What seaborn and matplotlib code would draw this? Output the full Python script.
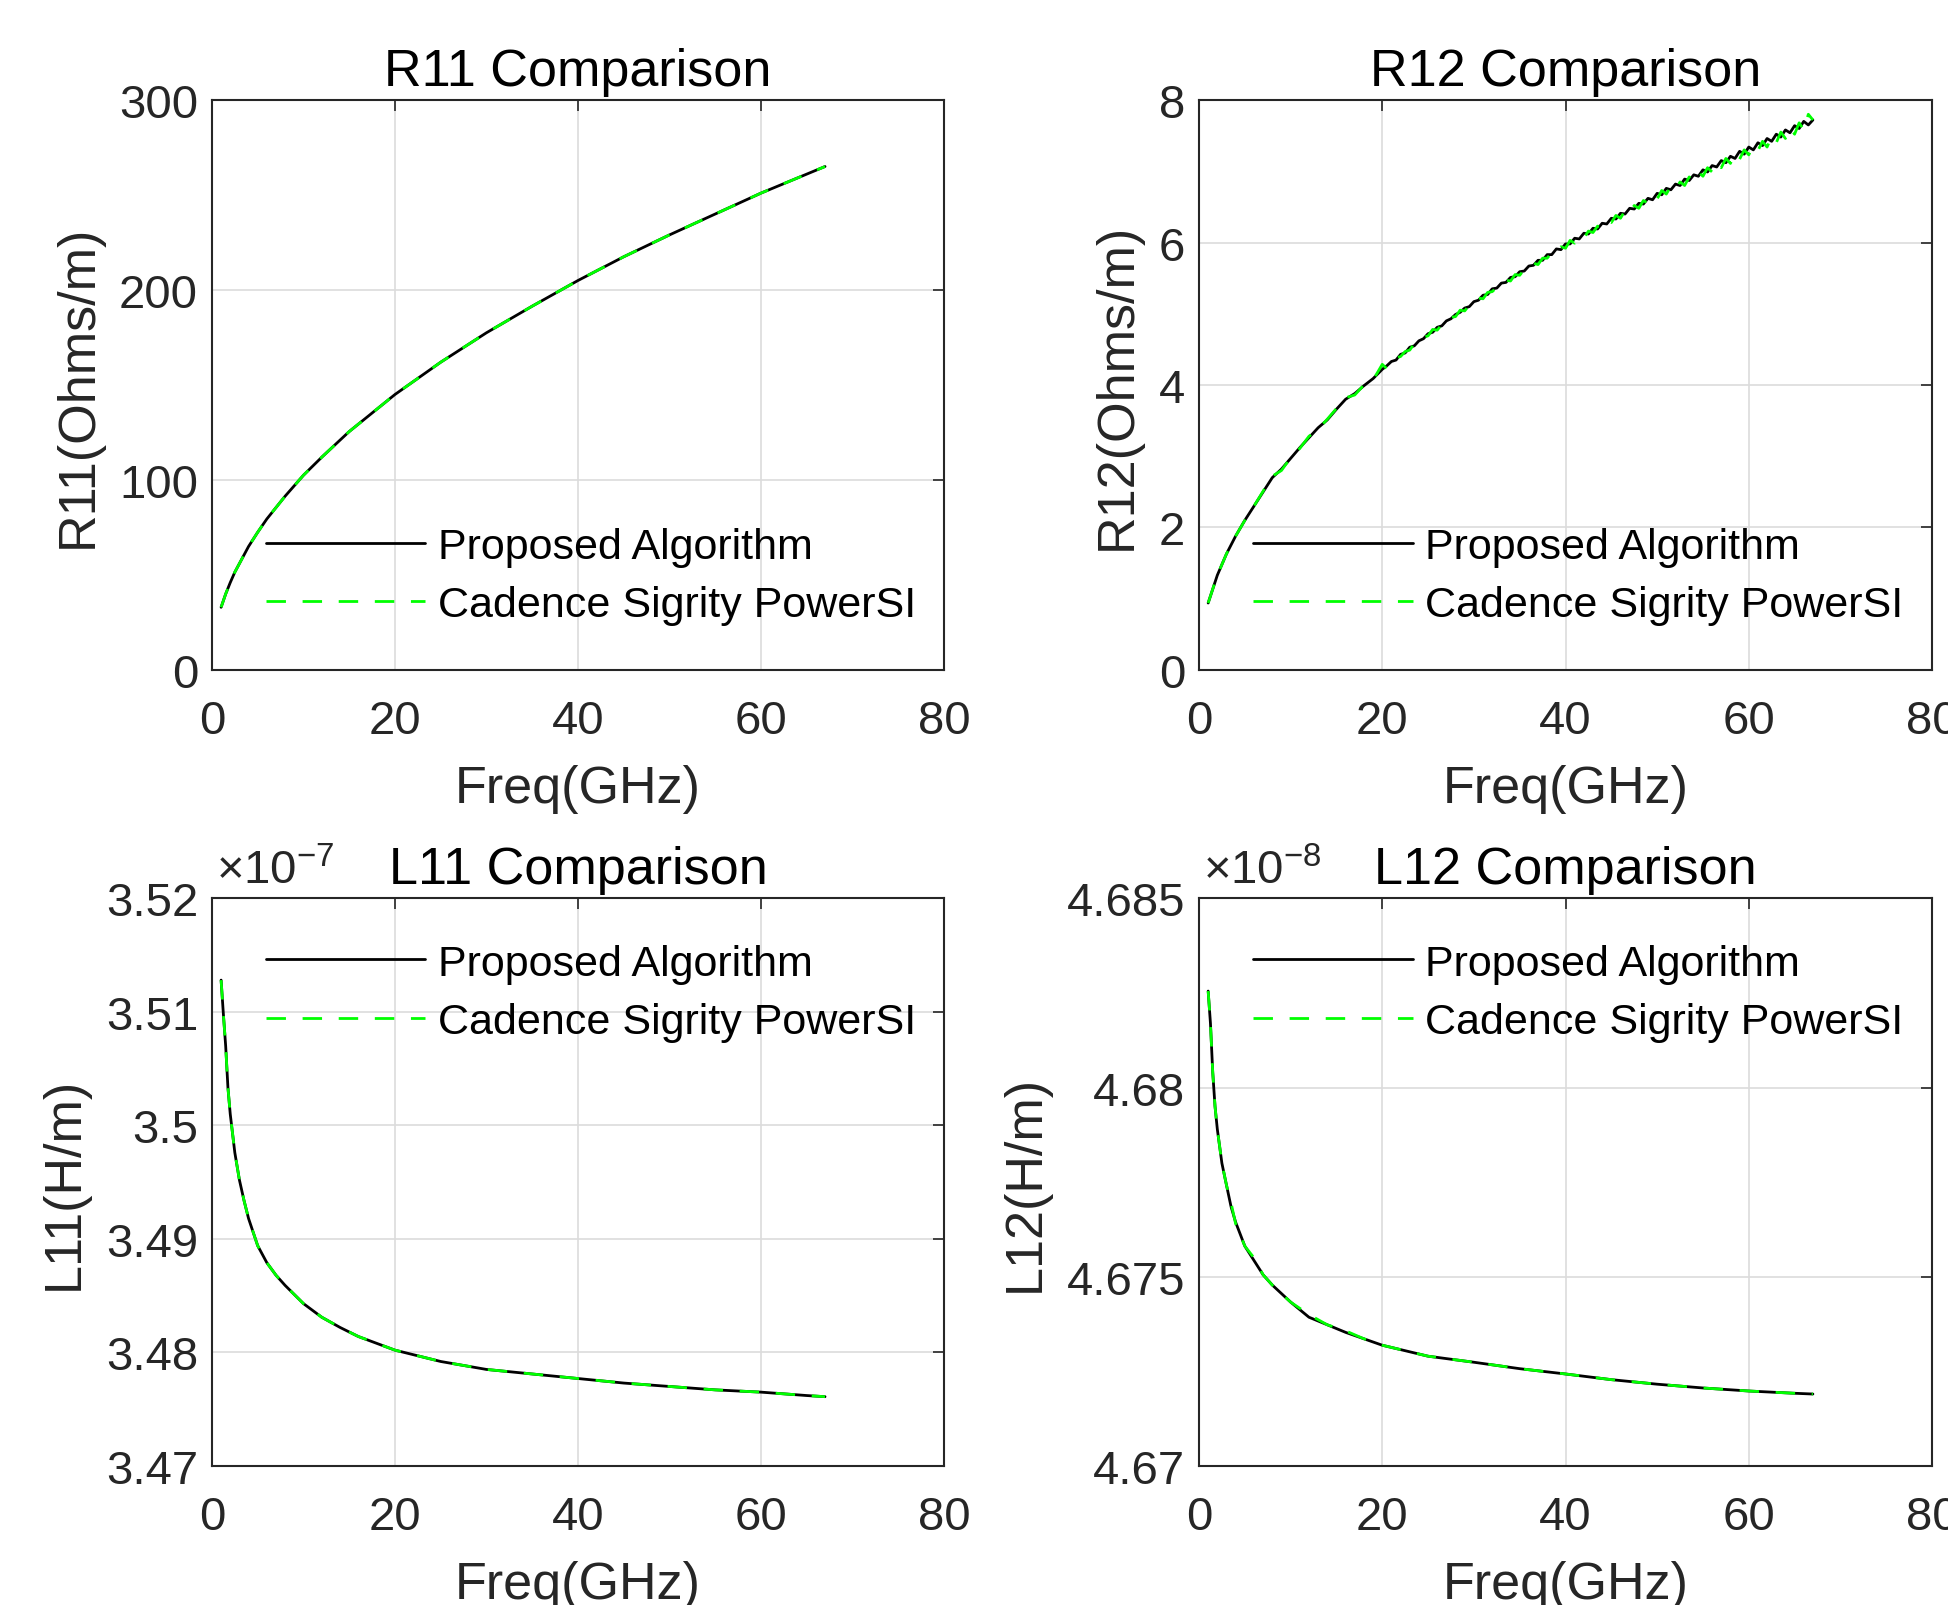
import matplotlib
matplotlib.use("Agg")
import matplotlib.pyplot as plt
import seaborn as sns
from matplotlib.ticker import FuncFormatter

# Frequency points (GHz) for the R11 curve
freq = [1, 1.5, 2, 2.5, 3, 4, 5, 6, 8, 10, 12, 15, 20, 25, 30, 35, 40, 45, 50, 55, 60, 65, 67]

# R11 (Ohms/m)
r11_prop = [33, 40, 46, 51.5, 56, 65, 72.5, 79.5, 91.5, 102.5, 112, 125.5, 145, 162, 177.5,
            191.5, 205, 217.5, 229, 240, 251, 261, 265]
r11_cad = [33, 40, 46, 51.5, 56, 65, 72.5, 79.5, 91.5, 102.5, 112, 125.5, 145, 162, 177.5,
           191.5, 205, 217.5, 229, 240, 251, 261, 265]

# R12 (Ohms/m), noisy: 1 GHz steps up to 19 GHz, then 0.5 GHz steps
freq12 = [1, 2, 3, 4, 5, 6, 7, 8, 9, 10, 11, 12, 13, 14, 15, 16, 17, 18, 19,
          20, 20.5, 21, 21.5, 22, 22.5, 23, 23.5, 24, 24.5, 25, 25.5, 26, 26.5, 27, 27.5,
          28, 28.5, 29, 29.5, 30, 30.5, 31, 31.5, 32, 32.5, 33, 33.5, 34, 34.5, 35, 35.5,
          36, 36.5, 37, 37.5, 38, 38.5, 39, 39.5, 40, 40.5, 41, 41.5, 42, 42.5, 43, 43.5,
          44, 44.5, 45, 45.5, 46, 46.5, 47, 47.5, 48, 48.5, 49, 49.5, 50, 50.5, 51, 51.5,
          52, 52.5, 53, 53.5, 54, 54.5, 55, 55.5, 56, 56.5, 57, 57.5, 58, 58.5, 59, 59.5,
          60, 60.5, 61, 61.5, 62, 62.5, 63, 63.5, 64, 64.5, 65, 65.5, 66, 66.5, 67]
r12_prop = [0.94, 1.33, 1.63, 1.88, 2.10, 2.30, 2.50, 2.70, 2.82, 2.97, 3.12, 3.26, 3.40, 3.51,
            3.66, 3.80, 3.88, 3.99, 4.09,
            4.22, 4.27, 4.33, 4.35, 4.43, 4.45, 4.53, 4.55, 4.62, 4.65, 4.72, 4.74, 4.81, 4.83,
            4.90, 4.93, 4.99, 5.02, 5.08, 5.10, 5.17, 5.19, 5.26, 5.27, 5.35, 5.36, 5.43, 5.44,
            5.51, 5.52, 5.59, 5.60, 5.67, 5.68, 5.75, 5.75, 5.83, 5.83, 5.91, 5.90, 5.98, 5.98,
            6.06, 6.05, 6.13, 6.12, 6.20, 6.19, 6.27, 6.26, 6.34, 6.33, 6.41, 6.40, 6.48, 6.47,
            6.55, 6.54, 6.62, 6.60, 6.69, 6.67, 6.76, 6.74, 6.82, 6.80, 6.89, 6.87, 6.95, 6.93,
            7.02, 6.99, 7.08, 7.06, 7.15, 7.12, 7.21, 7.18, 7.28, 7.24, 7.34, 7.30, 7.40, 7.36,
            7.46, 7.42, 7.52, 7.48, 7.58, 7.54, 7.64, 7.60, 7.70, 7.65, 7.72]
r12_cad = [0.94, 1.33, 1.63, 1.88, 2.10, 2.30, 2.51, 2.72, 2.80, 2.98, 3.11, 3.28, 3.38, 3.52,
           3.67, 3.82, 3.86, 4.00, 4.07,
           4.29, 4.23, 4.30, 4.38, 4.40, 4.47, 4.49, 4.58, 4.59, 4.67, 4.69, 4.78, 4.77, 4.85,
           4.86, 4.95, 4.96, 5.05, 5.04, 5.12, 5.14, 5.22, 5.21, 5.30, 5.31, 5.37, 5.39, 5.47,
           5.46, 5.55, 5.54, 5.62, 5.63, 5.71, 5.69, 5.78, 5.78, 5.86, 5.85, 5.94, 5.92, 6.03,
           5.99, 6.09, 6.06, 6.16, 6.14, 6.23, 6.21, 6.31, 6.28, 6.38, 6.34, 6.45, 6.41, 6.52,
           6.48, 6.59, 6.55, 6.65, 6.61, 6.73, 6.68, 6.79, 6.74, 6.85, 6.80, 6.92, 6.87, 6.99,
           6.93, 7.05, 6.99, 7.12, 7.05, 7.18, 7.11, 7.25, 7.17, 7.30, 7.23, 7.36, 7.29, 7.42,
           7.34, 7.49, 7.40, 7.55, 7.46, 7.61, 7.52, 7.68, 7.58, 7.80, 7.72]

# Frequency points (GHz) for the inductance curves
freq_l = [1, 1.25, 1.5, 1.75, 2, 2.5, 3, 3.5, 4, 5, 6, 7, 8, 10, 12, 14, 16, 18, 20, 25, 30,
          35, 40, 45, 50, 55, 60, 65, 67]

# L11 (H/m)
l11_prop = [3.5128e-7, 3.5098e-7, 3.5070e-7, 3.5033e-7, 3.5010e-7, 3.4976e-7, 3.4952e-7,
            3.4934e-7, 3.4918e-7, 3.4894e-7, 3.4879e-7, 3.4868e-7, 3.4859e-7, 3.4843e-7,
            3.4831e-7, 3.4822e-7, 3.4814e-7, 3.4808e-7, 3.4802e-7, 3.4792e-7, 3.4785e-7,
            3.4781e-7, 3.4777e-7, 3.4773e-7, 3.4770e-7, 3.4767e-7, 3.4765e-7, 3.4762e-7,
            3.4761e-7]
l11_cad = list(l11_prop)

# L12 (H/m)
l12_prop = [4.68255e-8, 4.6817e-8, 4.6804e-8, 4.6795e-8, 4.6789e-8, 4.6780e-8, 4.67742e-8,
            4.67685e-8, 4.67644e-8, 4.67581e-8, 4.67543e-8, 4.67505e-8, 4.67478e-8,
            4.67433e-8, 4.67393e-8, 4.67373e-8, 4.67353e-8, 4.67336e-8, 4.67319e-8,
            4.67290e-8, 4.67274e-8, 4.67257e-8, 4.67243e-8, 4.67228e-8, 4.67216e-8,
            4.67206e-8, 4.67198e-8, 4.67192e-8, 4.6719e-8]
l12_cad = [4.68255e-8, 4.6817e-8, 4.6804e-8, 4.6795e-8, 4.6789e-8, 4.6780e-8, 4.67742e-8,
           4.67695e-8, 4.67640e-8, 4.67581e-8, 4.67550e-8, 4.67505e-8, 4.67478e-8,
           4.67433e-8, 4.67400e-8, 4.67373e-8, 4.67357e-8, 4.67336e-8, 4.67319e-8,
           4.67290e-8, 4.67274e-8, 4.67257e-8, 4.67243e-8, 4.67228e-8, 4.67216e-8,
           4.67206e-8, 4.67198e-8, 4.67192e-8, 4.6719e-8]

xticks = [0, 20, 40, 60, 80]
labels = ["Proposed Algorithm", "Cadence Sigrity PowerSI"]

sns.set_theme(style="white")
plt.rcParams['font.family'] = ['Liberation Sans', 'DejaVu Sans']
plt.rcParams['mathtext.fontset'] = 'custom'
plt.rcParams['mathtext.rm'] = 'Liberation Sans'
plt.rcParams['mathtext.default'] = 'regular'

TXT = '#262626'
fig = plt.figure(figsize=(19.48, 16.06), dpi=100)

pos = {
    'R11': [0.1088, 0.5822, 0.3758, 0.3549],
    'R12': [0.6155, 0.5822, 0.3763, 0.3549],
    'L11': [0.1088, 0.0866, 0.3758, 0.3534],
    'L12': [0.6155, 0.0866, 0.3763, 0.3534],
}

def panel(key, x, yp, yc, ylabel, ylim, yticks, leg_y, scale=None):
    ax = fig.add_axes(pos[key])
    sns.lineplot(x=x, y=yp, ax=ax, color='black', linewidth=2, label=labels[0],
                 estimator=None, sort=False)
    sns.lineplot(x=x, y=yc, ax=ax, color='#00ff00', linewidth=2, label=labels[1],
                 estimator=None, sort=False, linestyle=(0, (7, 6)))
    ax.set_xlim(0, 80)
    ax.set_ylim(*ylim)
    ax.set_xticks(xticks)
    ax.set_yticks(yticks)
    ax.grid(True, color='#dcdcdc', linewidth=1.2)
    for s in ax.spines.values():
        s.set_color(TXT)
        s.set_linewidth(1.5)
    ax.tick_params(direction='in', length=8, width=1.2, top=True, right=True,
                   labelsize=34, colors=TXT)
    ax.tick_params(axis='x', pad=21)
    ax.tick_params(axis='y', pad=10)
    if scale is not None:
        exp = scale
        ax.yaxis.set_major_formatter(FuncFormatter(lambda v, p: '%g' % round(v / 10 ** exp, 6)))
        ax.text(0.005, 1.008, r'$\times\mathregular{10^{%d}}$' % exp, transform=ax.transAxes,
                fontsize=34, color=TXT, ha='left', va='bottom')
    ax.set_xlabel('Freq(GHz)', fontsize=37.5, color=TXT, labelpad=15)
    ax.set_ylabel(ylabel, fontsize=37.5, color=TXT, labelpad=12)
    ax.set_title(key + ' Comparison', fontsize=37.5, color='black', pad=11)
    leg = ax.legend(loc='center left', bbox_to_anchor=(0.074, leg_y), frameon=False,
                    fontsize=31, handlelength=3.7, handletextpad=0.3, borderpad=0,
                    borderaxespad=0, labelspacing=0.42)
    for t in leg.get_texts():
        t.set_color('black')
    return ax

panel('R11', freq, r11_prop, r11_cad, 'R11(Ohms/m)', (0, 300), [0, 100, 200, 300], 0.165)
panel('R12', freq12, r12_prop, r12_cad, 'R12(Ohms/m)', (0, 8), [0, 2, 4, 6, 8], 0.165)
panel('L11', freq_l, l11_prop, l11_cad, 'L11(H/m)', (3.47e-7, 3.52e-7),
      [3.47e-7, 3.48e-7, 3.49e-7, 3.50e-7, 3.51e-7, 3.52e-7], 0.834, scale=-7)
panel('L12', freq_l, l12_prop, l12_cad, 'L12(H/m)', (4.67e-8, 4.685e-8),
      [4.67e-8, 4.675e-8, 4.68e-8, 4.685e-8], 0.834, scale=-8)

fig.savefig('out.png', dpi=100, facecolor='white')
